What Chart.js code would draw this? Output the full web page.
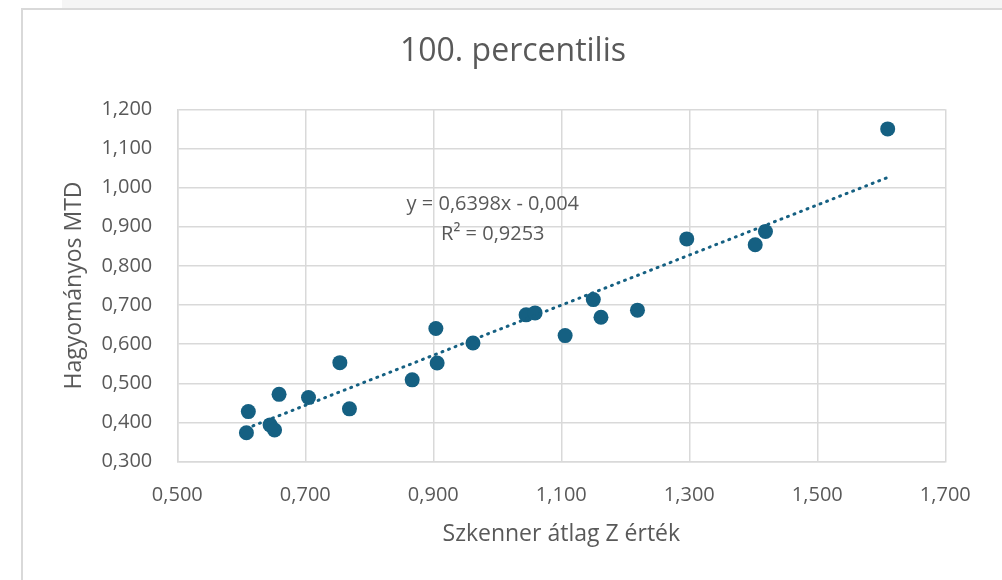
<!DOCTYPE html>
<html>
<head>
<meta charset="utf-8">
<title>100. percentilis</title>
<script src="https://cdn.jsdelivr.net/npm/chart.js@4.4.1/dist/chart.umd.min.js"></script>
<style>
    body { margin: 0; background: #ffffff; overflow: hidden; }
    .wrap { position: relative; width: 1002px; height: 580px; overflow: hidden; }
    .strip { position: absolute; left: 62px; top: 0; width: 940px; height: 8px; background: #f5f5f5; }
    .box { position: absolute; left: 21px; top: 8px; width: 1100px; height: 700px; border: 2px solid #d9d9d9; background: #ffffff; }
    #chart { position: absolute; left: 0; top: 0; }
</style>
</head>
<body>
<div class="wrap">
    <div class="strip"></div>
    <div class="box"></div>
    <canvas id="chart" width="1026" height="580"></canvas>
</div>
<script>
// scanner average Z (x) vs traditional MTD (y)
const szkenner = [0.611, 0.608, 0.645, 0.652, 0.659, 0.705, 0.754, 0.769, 0.867, 0.904, 0.906,
    0.962, 1.045, 1.059, 1.106, 1.150, 1.162, 1.219, 1.296, 1.403, 1.419, 1.610];
const mtd = [0.428, 0.374, 0.394, 0.381, 0.472, 0.464, 0.553, 0.435, 0.509, 0.640, 0.552,
    0.603, 0.675, 0.680, 0.622, 0.714, 0.669, 0.687, 0.869, 0.854, 0.888, 1.150];

// linear trendline ends (Excel draws it from min x to max x)
const trendX = [0.608, 1.610];
const trendY = [0.385, 1.026];

const eqLines = ["y = 0,6398x - 0,004", "R\u00b2 = 0,9253"];

const textColor = "#595959";
const gridColor = "#d9d9d9";
const dotColor = "#156082";
const font = "'Open Sans', 'Liberation Sans', sans-serif";

const fmt = (v) => v.toFixed(3).replace(".", ",");

const points = szkenner.map((x, i) => ({ x: x, y: mtd[i] }));
const trend = trendX.map((x, i) => ({ x: x, y: trendY[i] }));

// trendline equation, placed in data space under the line
const equationLabel = {
    id: "equationLabel",
    afterDatasetsDraw(chart) {
        const ctx = chart.ctx;
        const xs = chart.scales.x, ys = chart.scales.y;
        const cx = xs.getPixelForValue(0.993);
        const rows = [0.957, 0.882];
        ctx.save();
        ctx.fillStyle = textColor;
        ctx.font = "20px " + font;
        ctx.textAlign = "center";
        ctx.textBaseline = "middle";
        eqLines.forEach((t, i) => {
            ctx.fillText(t, cx, ys.getPixelForValue(rows[i]));
        });
        ctx.restore();
    }
};

new Chart(document.getElementById("chart"), {
    type: "scatter",
    data: {
        datasets: [{
            label: "Hagyományos MTD",
            data: points,
            backgroundColor: dotColor,
            borderWidth: 0,
            pointRadius: 7.5,
            pointHoverRadius: 7.5,
            order: 2
        }, {
            type: "line",
            label: "Lineáris trend",
            data: trend,
            borderColor: dotColor,
            borderWidth: 3,
            borderDash: [1, 6],
            borderCapStyle: "round",
            pointRadius: 0,
            fill: false,
            order: 1
        }]
    },
    options: {
        responsive: false,
        animation: false,
        layout: {
            padding: { left: 0, top: 0, right: 0, bottom: 0 }
        },
        plugins: {
            legend: { display: false },
            tooltip: { enabled: false },
            title: {
                display: true,
                text: "100. percentilis",
                color: textColor,
                font: { family: font, size: 32, weight: "normal" },
                padding: { top: 33, bottom: 37.9 }
            }
        },
        scales: {
            x: {
                type: "linear",
                min: 0.5,
                max: 1.7,
                ticks: {
                    stepSize: 0.2,
                    color: textColor,
                    font: { family: font, size: 20 },
                    padding: 21.8,
                    callback: (v) => fmt(v)
                },
                grid: { color: gridColor, lineWidth: 1.5, drawTicks: false },
                border: { color: gridColor, width: 1.5 },
                title: {
                    display: true,
                    text: "Szkenner átlag Z érték",
                    color: textColor,
                    font: { family: font, size: 23 },
                    padding: { top: 0, bottom: 32 }
                },
                afterFit: (scale) => { scale.height = 118.3; }
            },
            y: {
                type: "linear",
                min: 0.3,
                max: 1.2,
                ticks: {
                    stepSize: 0.1,
                    color: textColor,
                    font: { family: font, size: 20 },
                    padding: 25,
                    callback: (v) => fmt(v)
                },
                grid: { color: gridColor, lineWidth: 1.5, drawTicks: false },
                border: { color: gridColor, width: 1.5 },
                title: {
                    display: true,
                    text: "Hagyományos MTD",
                    color: textColor,
                    font: { family: font, size: 23 },
                    padding: { top: 61, bottom: 0 }
                },
                afterFit: (scale) => { scale.width = 177.3; }
            },
            // empty right-hand margin so the chart title sits where Excel put it
            yRight: {
                type: "linear",
                position: "right",
                ticks: { display: false },
                grid: { display: false, drawTicks: false },
                border: { display: false },
                afterFit: (scale) => { scale.width = 80.7; }
            }
        }
    },
    plugins: [equationLabel]
});
</script>
</body>
</html>
